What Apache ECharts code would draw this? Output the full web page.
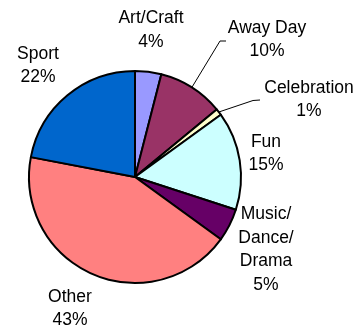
<!DOCTYPE html>
<html>
<head>
<meta charset="utf-8">
<script src="https://cdn.jsdelivr.net/npm/echarts@6/dist/echarts.min.js"></script>
<style>
  html, body { margin: 0; padding: 0; background: #fff; }
  #chart { width: 361px; height: 326px; }
</style>
</head>
<body>
<div id="chart"></div>
<script>
// Activity categories and their share of the total (percent)
const categories = ['Art/Craft', 'Away Day', 'Celebration', 'Fun', 'Music/\nDance/\nDrama', 'Other', 'Sport'];
const shares = [4, 10, 1, 15, 5, 43, 22];
const sliceColors = ['#9999FF', '#993366', '#FFFFCC', '#CCFFFF', '#660066', '#FF8080', '#0066CC'];

// Label anchor (centre x, top y) for each slice, plus the elbow of the leader line where one is drawn
const labelAnchors = [
  { x: 151, y: 6.5 },
  { x: 267, y: 16, elbow: [[220, 41], [226, 41]] },
  { x: 309, y: 76, elbow: [[253, 100.5], [260, 100]] },
  { x: 266, y: 130 },
  { x: 266, y: 202.5 },
  { x: 70, y: 285 },
  { x: 38, y: 42 }
];

const chart = echarts.init(document.getElementById('chart'), null, { renderer: 'canvas' });

chart.setOption({
  animation: false,
  backgroundColor: '#ffffff',
  series: [{
    type: 'pie',
    center: [135, 177],
    radius: 106,
    startAngle: 90,
    clockwise: true,
    avoidLabelOverlap: false,
    itemStyle: { borderColor: '#000000', borderWidth: 2 },
    emphasis: { disabled: true },
    label: {
      show: true,
      position: 'outside',
      formatter: p => p.name + '\n' + p.value + '%',
      fontFamily: 'Liberation Sans, Arial, sans-serif',
      fontSize: 17.5,
      lineHeight: 23.5,
      color: '#000000',
      align: 'center'
    },
    labelLine: { show: false, lineStyle: { color: '#000000', width: 1 } },
    labelLayout: function (params) {
      const a = labelAnchors[params.dataIndex];
      const out = { x: a.x, y: a.y, align: 'center', verticalAlign: 'top' };
      if (a.elbow && params.labelLinePoints) {
        out.labelLinePoints = [params.labelLinePoints[0]].concat(a.elbow);
      }
      return out;
    },
    data: categories.map((name, i) => ({
      name: name,
      value: shares[i],
      itemStyle: { color: sliceColors[i] },
      labelLine: { show: !!labelAnchors[i].elbow }
    }))
  }]
});
</script>
</body>
</html>
